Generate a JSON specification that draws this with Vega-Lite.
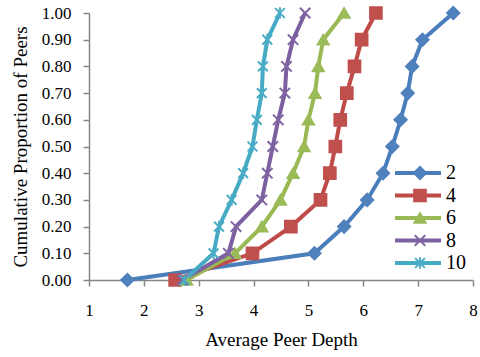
{
  "$schema": "https://vega.github.io/schema/vega-lite/v6.json",
  "width": 384,
  "height": 267,
  "autosize": {"type": "none"},
  "padding": {"left": 89, "top": 13, "right": 7, "bottom": 77},
  "background": "white",
  "config": {
    "font": "Liberation Serif",
    "view": {"stroke": null},
    "axis": {
      "grid": false,
      "domainColor": "#868686",
      "domainWidth": 1.5,
      "tickColor": "#868686",
      "tickWidth": 1.5,
      "tickSize": 6,
      "labelFont": "Liberation Serif",
      "labelFontSize": 17,
      "labelColor": "#000000",
      "titleFont": "Liberation Serif",
      "titleFontSize": 19,
      "titleFontWeight": "normal",
      "titleColor": "#000000",
      "labelFlush": false,
      "labelOverlap": false
    }
  },
  "data": {
    "values": [
      {"series": 2, "p": 0.0, "depth": 1.70},
      {"series": 2, "p": 0.1, "depth": 5.11},
      {"series": 2, "p": 0.2, "depth": 5.65},
      {"series": 2, "p": 0.3, "depth": 6.07},
      {"series": 2, "p": 0.4, "depth": 6.36},
      {"series": 2, "p": 0.5, "depth": 6.53},
      {"series": 2, "p": 0.6, "depth": 6.68},
      {"series": 2, "p": 0.7, "depth": 6.81},
      {"series": 2, "p": 0.8, "depth": 6.89},
      {"series": 2, "p": 0.9, "depth": 7.08},
      {"series": 2, "p": 1.0, "depth": 7.64},
      {"series": 4, "p": 0.0, "depth": 2.57},
      {"series": 4, "p": 0.1, "depth": 3.98},
      {"series": 4, "p": 0.2, "depth": 4.68},
      {"series": 4, "p": 0.3, "depth": 5.22},
      {"series": 4, "p": 0.4, "depth": 5.39},
      {"series": 4, "p": 0.5, "depth": 5.49},
      {"series": 4, "p": 0.6, "depth": 5.58},
      {"series": 4, "p": 0.7, "depth": 5.70},
      {"series": 4, "p": 0.8, "depth": 5.84},
      {"series": 4, "p": 0.9, "depth": 5.97},
      {"series": 4, "p": 1.0, "depth": 6.23},
      {"series": 6, "p": 0.0, "depth": 2.78},
      {"series": 6, "p": 0.1, "depth": 3.66},
      {"series": 6, "p": 0.2, "depth": 4.15},
      {"series": 6, "p": 0.3, "depth": 4.49},
      {"series": 6, "p": 0.4, "depth": 4.72},
      {"series": 6, "p": 0.5, "depth": 4.92},
      {"series": 6, "p": 0.6, "depth": 5.00},
      {"series": 6, "p": 0.7, "depth": 5.12},
      {"series": 6, "p": 0.8, "depth": 5.18},
      {"series": 6, "p": 0.9, "depth": 5.27},
      {"series": 6, "p": 1.0, "depth": 5.65},
      {"series": 8, "p": 0.0, "depth": 2.70},
      {"series": 8, "p": 0.1, "depth": 3.54},
      {"series": 8, "p": 0.2, "depth": 3.68},
      {"series": 8, "p": 0.3, "depth": 4.15},
      {"series": 8, "p": 0.4, "depth": 4.25},
      {"series": 8, "p": 0.5, "depth": 4.35},
      {"series": 8, "p": 0.6, "depth": 4.45},
      {"series": 8, "p": 0.7, "depth": 4.57},
      {"series": 8, "p": 0.8, "depth": 4.60},
      {"series": 8, "p": 0.9, "depth": 4.72},
      {"series": 8, "p": 1.0, "depth": 4.94},
      {"series": 10, "p": 0.0, "depth": 2.74},
      {"series": 10, "p": 0.1, "depth": 3.27},
      {"series": 10, "p": 0.2, "depth": 3.37},
      {"series": 10, "p": 0.3, "depth": 3.60},
      {"series": 10, "p": 0.4, "depth": 3.81},
      {"series": 10, "p": 0.5, "depth": 3.98},
      {"series": 10, "p": 0.6, "depth": 4.06},
      {"series": 10, "p": 0.7, "depth": 4.15},
      {"series": 10, "p": 0.8, "depth": 4.17},
      {"series": 10, "p": 0.9, "depth": 4.25},
      {"series": 10, "p": 1.0, "depth": 4.48}
    ]
  },
  "encoding": {
    "x": {
      "field": "depth",
      "type": "quantitative",
      "scale": {"domain": [1, 8], "nice": false, "zero": false},
      "axis": {"values": [1, 2, 3, 4, 5, 6, 7, 8], "title": "Average Peer Depth", "labelPadding": 16, "titlePadding": 12}
    },
    "y": {
      "field": "p",
      "type": "quantitative",
      "scale": {"domain": [0, 1], "nice": false},
      "axis": {"values": [0, 0.1, 0.2, 0.3, 0.4, 0.5, 0.6, 0.7, 0.8, 0.9, 1.0], "format": ".2f", "title": "Cumulative Proportion of Peers", "labelPadding": 12, "titlePadding": 11}
    },
    "order": {"field": "p", "type": "quantitative"}
  },
  "layer": [
    {
      "mark": {"type": "line", "strokeWidth": 4},
      "encoding": {
        "color": {
          "field": "series",
          "type": "ordinal",
          "scale": {"domain": [2, 4, 6, 8, 10], "range": ["#4A7EBB", "#BE4B48", "#98B954", "#7D60A0", "#46AAC5"]},
          "legend": {
            "title": null,
            "orient": "none",
            "legendX": 304,
            "legendY": 150,
            "padding": 0,
            "symbolType": "stroke",
            "symbolSize": 2116,
            "symbolStrokeWidth": 4,
            "labelFont": "Liberation Serif",
            "labelFontSize": 20,
            "labelColor": "#000000",
            "labelOffset": 3,
            "clipHeight": 20,
            "rowPadding": 2.5
          }
        }
      }
    },
    {
      "mark": {"type": "point", "filled": true, "strokeWidth": 2, "opacity": 1},
      "encoding": {
        "fill": {
          "field": "series",
          "type": "ordinal",
          "scale": {"range": ["#4F81BD", "#C0504D", "#9BBB59", "#8064A2", "#4BACC6"]},
          "legend": {"title": null, "orient": "none", "legendX": 321, "legendY": 150, "padding": 0, "symbolStrokeWidth": 2, "labelFontSize": 20, "labelExpr": "''", "clipHeight": 20, "rowPadding": 2.5}
        },
        "stroke": {
          "field": "series",
          "type": "ordinal",
          "scale": {"range": ["#4F81BD", "#C0504D", "#9BBB59", "#8064A2", "#4BACC6"]},
          "legend": {"title": null, "orient": "none", "legendX": 321, "legendY": 150, "padding": 0, "symbolStrokeWidth": 2, "labelFontSize": 20, "labelExpr": "''", "clipHeight": 20, "rowPadding": 2.5}
        },
        "shape": {
          "field": "series",
          "type": "ordinal",
          "scale": {"range": ["diamond", "square", "triangle-up", "M-1,-1L1,1M-1,1L1,-1", "M-1,-1L1,1M-1,1L1,-1M0,-1.2L0,1.2"]},
          "legend": {"title": null, "orient": "none", "legendX": 321, "legendY": 150, "padding": 0, "symbolStrokeWidth": 2, "labelFontSize": 20, "labelExpr": "''", "clipHeight": 20, "rowPadding": 2.5}
        },
        "size": {
          "field": "series",
          "type": "ordinal",
          "scale": {"range": [150, 95, 130, 150, 160]},
          "legend": {"title": null, "orient": "none", "legendX": 321, "legendY": 150, "padding": 0, "symbolStrokeWidth": 2, "labelFontSize": 20, "labelExpr": "''", "clipHeight": 20, "rowPadding": 2.5}
        }
      }
    }
  ]
}
